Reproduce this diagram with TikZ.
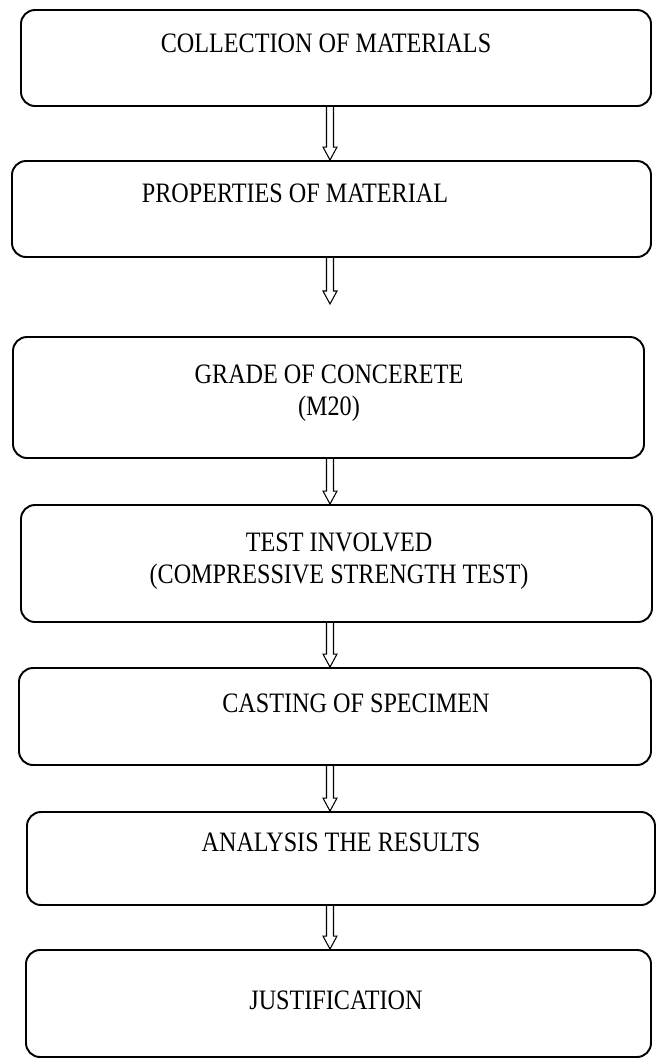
\documentclass[tikz,border=0pt]{standalone}
\usepackage{fontspec}
\setmainfont{Liberation Serif}[FakeStretch=0.86]
\usetikzlibrary{calc,fit}

\begin{document}
\begin{tikzpicture}[x=0.02cm, y=-0.02cm,
    stage/.style={draw, line width=1.1pt, rounded corners=0.28cm, inner sep=0pt},
    caption/.style={font=\fontsize{16}{18.2}\selectfont, inner sep=0pt, align=center},
    hollow/.style={line width=0.6pt, line join=miter, to path={
      ($(\tikztostart)+(-3.5,0)$) -- ($(\tikztotarget)+(-3.5,-13)$) -- ++(-3.5,0)
      -- (\tikztotarget) -- ++(7,-13) -- ++(-3.5,0) -- ($(\tikztostart)+(3.5,0)$)}}]
  \useasboundingbox (0,0) rectangle (660,1059);
  % boxes
  \node[stage, fit={(21,10) (651,106)}] (b1) {};
  \node[stage, fit={(12,161) (651,257)}] (b2) {};
  \node[stage, fit={(13,337) (644,458)}] (b3) {};
  \node[stage, fit={(21,505) (652,622)}] (b4) {};
  \node[stage, fit={(19,668) (651,765)}] (b5) {};
  \node[stage, fit={(27,812) (655,905)}] (b6) {};
  \node[stage, fit={(26,950) (651,1057)}] (b7) {};
  % texts
  \node[caption] (t1) at (326,43) {COLLECTION OF MATERIALS};
  \node[caption] (t2) at (295,193) {PROPERTIES OF MATERIAL};
  \node[caption] (t3) at (329,393) {GRADE OF CONCERETE\\(M20)};
  \node[caption] (t4) at (339,561) {TEST INVOLVED\\(COMPRESSIVE STRENGTH TEST)};
  \node[caption] (t5) at (356,703) {CASTING OF SPECIMEN};
  \node[caption] (t6) at (341,842) {ANALYSIS THE RESULTS};
  \node[caption] (t7) at (336,1000) {JUSTIFICATION};
  % arrows
  \coordinate (ax) at (330,0);
  \coordinate (tip2) at (330,304);
  \foreach \a/\b in {b1/b2, b3/b4, b4/b5, b5/b6, b6/b7}{
    \path (\a.south -| ax) coordinate (top) (\b.north -| ax) coordinate (tip);
    \draw[hollow] (top) to (tip);
  }
  \path (b2.south -| ax) coordinate (top2);
  \draw[hollow] (top2) to (tip2);
\end{tikzpicture}
\end{document}
